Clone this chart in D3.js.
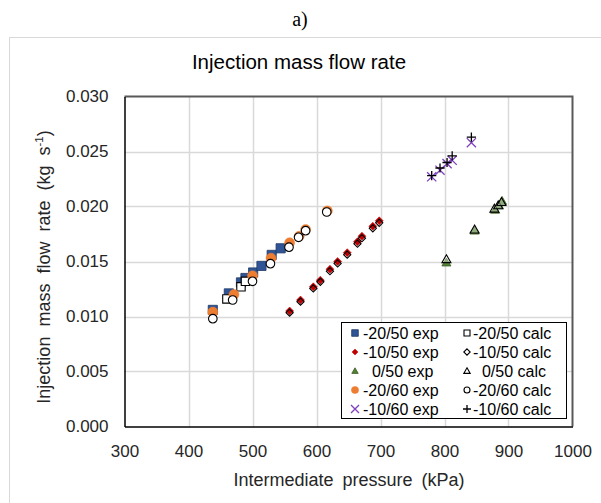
<!DOCTYPE html>
<html>
<head>
<meta charset="utf-8">
<script src="https://cdn.jsdelivr.net/npm/d3@7"></script>
<style>
  html, body { margin: 0; padding: 0; background: #ffffff; }
  svg { display: block; }
  text { font-family: "Liberation Sans", Arial, sans-serif; fill: #262626; }
</style>
</head>
<body>
<svg id="chart" width="601" height="503"></svg>
<script>
// ---------------- DATA ----------------
const xTicks = [300, 400, 500, 600, 700, 800, 900, 1000];
const yTicks = [0.000, 0.005, 0.010, 0.015, 0.020, 0.025, 0.030];

const seriesNames = ["-20/50 exp", "-20/50 calc", "-10/50 exp", "-10/50 calc",
                     "\u00a0\u00a00/50 exp", "\u00a0\u00a00/50 calc", "-20/60 exp", "-20/60 calc",
                     "-10/60 exp", "-10/60 calc"];

// -20/50
const m20_50_exp_x  = [438, 463, 482, 489, 501, 514, 530, 544];
const m20_50_exp_y  = [0.0106, 0.0121, 0.0131, 0.0135, 0.0140, 0.0146, 0.0156, 0.0162];
const m20_50_calc_x = [460, 482, 489];
const m20_50_calc_y = [0.0116, 0.0127, 0.0132];
// -10/50
const m10_50_exp_x  = [558, 575, 595, 606, 621, 633, 648, 664, 671, 688, 698];
const m10_50_exp_y  = [0.0105, 0.0115, 0.0127, 0.0133, 0.0143, 0.0150, 0.0158, 0.0168, 0.0173, 0.0182, 0.0187];
const m10_50_calc_x = [558, 575, 595, 606, 621, 633, 648, 664, 671, 688, 698];
const m10_50_calc_y = [0.01035, 0.01135, 0.01255, 0.01315, 0.01412, 0.01482, 0.01562, 0.01662, 0.01712, 0.01802, 0.01852];
// 0/50
const z0_50_exp_x   = [803, 847, 879, 885, 890];
const z0_50_exp_y   = [0.0149, 0.0178, 0.0197, 0.0201, 0.0205];
const z0_50_calc_x  = [803, 847, 878, 884, 889];
const z0_50_calc_y  = [0.0152, 0.0179, 0.0198, 0.0201, 0.0204];
// -20/60
const m20_60_exp_x  = [438, 471, 500, 529, 558, 573, 583, 617];
const m20_60_exp_y  = [0.0104, 0.0120, 0.0137, 0.0153, 0.0167, 0.0173, 0.0179, 0.0196];
const m20_60_calc_x = [438, 469, 500, 528, 557, 572, 583, 616];
const m20_60_calc_y = [0.0098, 0.0115, 0.0132, 0.0148, 0.0163, 0.0172, 0.0178, 0.0195];
// -10/60
const m10_60_exp_x  = [780, 793, 804, 812, 842];
const m10_60_exp_y  = [0.0227, 0.0233, 0.0239, 0.0242, 0.0258];
const m10_60_calc_x = [780, 793, 804, 812, 842];
const m10_60_calc_y = [0.0228, 0.0235, 0.0240, 0.0246, 0.0263];

// ---------------- MARKER SHAPES (size = half-width in px) ----------------
const mk = {
  square:   { draw(c, r) { c.moveTo(-r, -r); c.lineTo(r, -r); c.lineTo(r, r); c.lineTo(-r, r); c.closePath(); } },
  diamond:  { draw(c, r) { c.moveTo(0, -r); c.lineTo(r, 0); c.lineTo(0, r); c.lineTo(-r, 0); c.closePath(); } },
  triangle: { draw(c, r) { c.moveTo(0, -r); c.lineTo(r, r * 0.75); c.lineTo(-r, r * 0.75); c.closePath(); } },
  circle:   { draw(c, r) { c.moveTo(r, 0); c.arc(0, 0, r, 0, 2 * Math.PI); c.closePath(); } },
  times:    { draw(c, r) { c.moveTo(-r, -r); c.lineTo(r, r); c.moveTo(r, -r); c.lineTo(-r, r); } },
  plus:     { draw(c, r) { c.moveTo(-r, 0); c.lineTo(r, 0); c.moveTo(0, -r); c.lineTo(0, r); } }
};

const series = [
  { name: seriesNames[0], xs: m20_50_exp_x,  ys: m20_50_exp_y,  type: mk.square,   r: 4.6, r2: 3.3, fill: "#2F5597", stroke: "#1F3864", sw: 0.8 },
  { name: seriesNames[1], xs: m20_50_calc_x, ys: m20_50_calc_y, type: mk.square,   r: 4.2, r2: 3.0, fill: "#ffffff", stroke: "#000000", sw: 1.1 },
  { name: seriesNames[2], xs: m10_50_exp_x,  ys: m10_50_exp_y,  type: mk.diamond,  r: 4.0, r2: 3.0, fill: "#C00000", stroke: "#C00000", sw: 0.5 },
  { name: seriesNames[3], xs: m10_50_calc_x, ys: m10_50_calc_y, type: mk.diamond,  r: 3.6, r2: 3.2, fill: "#ffffff", stroke: "#000000", sw: 1.1, fillOpacity: 0.0 },
  { name: seriesNames[4], xs: z0_50_exp_x,   ys: z0_50_exp_y,   type: mk.triangle, r: 4.5, r2: 3.2, fill: "#548235", stroke: "#3a5a24", sw: 0.8 },
  { name: seriesNames[5], xs: z0_50_calc_x,  ys: z0_50_calc_y,  type: mk.triangle, r: 4.5, r2: 3.2, fill: "#ffffff", stroke: "#000000", sw: 1.1, fillOpacity: 0.35 },
  { name: seriesNames[6], xs: m20_60_exp_x,  ys: m20_60_exp_y,  type: mk.circle,   r: 5.0, r2: 3.6, fill: "#ED7D31", stroke: "#ED7D31", sw: 0.5 },
  { name: seriesNames[7], xs: m20_60_calc_x, ys: m20_60_calc_y, type: mk.circle,   r: 4.3, r2: 3.0, fill: "#ffffff", stroke: "#000000", sw: 1.1 },
  { name: seriesNames[8], xs: m10_60_exp_x,  ys: m10_60_exp_y,  type: mk.times,    r: 4.6, r2: 4.0, fill: "none",    stroke: "#7F3FBF", sw: 1.3 },
  { name: seriesNames[9], xs: m10_60_calc_x, ys: m10_60_calc_y, type: mk.plus,     r: 4.6, r2: 4.0, fill: "none",    stroke: "#000000", sw: 1.3 }
];

// ---------------- LAYOUT ----------------
const svg = d3.select("#chart");
const plot = { left: 124.5, right: 572.5, top: 96.5, bottom: 426.5 };

const x = d3.scaleLinear().domain([300, 1000]).range([plot.left, plot.right]);
const y = d3.scaleLinear().domain([0, 0.030]).range([plot.bottom, plot.top]);

// "a)" label
svg.append("text").attr("x", 300).attr("y", 26).attr("text-anchor", "middle")
  .style("font-family", "'Liberation Serif', 'Times New Roman', serif")
  .style("font-size", "20px").style("fill", "#000").text("a)");

// outer chart border
svg.append("rect").attr("x", 9.5).attr("y", 37.5).attr("width", 620).attr("height", 500)
  .attr("fill", "none").attr("stroke", "#d9d9d9").attr("stroke-width", 1);

// title
svg.append("text").attr("x", 299).attr("y", 69).attr("text-anchor", "middle")
  .style("font-size", "20.5px").style("fill", "#000").text("Injection mass flow rate");

// gridlines
const grid = svg.append("g");
grid.selectAll("line.v").data(xTicks.slice(1, -1)).enter().append("line")
  .attr("x1", d => Math.round(x(d)) + 0.5).attr("x2", d => Math.round(x(d)) + 0.5)
  .attr("y1", plot.top).attr("y2", plot.bottom)
  .attr("stroke", "#d9d9d9").attr("stroke-width", 1.5);
grid.selectAll("line.h").data(yTicks.slice(1, -1)).enter().append("line")
  .attr("y1", d => Math.round(y(d)) + 0.5).attr("y2", d => Math.round(y(d)) + 0.5)
  .attr("x1", plot.left).attr("x2", plot.right)
  .attr("stroke", "#d9d9d9").attr("stroke-width", 1.5);

// plot border (top/right dark grey)
svg.append("path")
  .attr("d", `M${plot.left},${plot.top}H${plot.right}V${plot.bottom}`)
  .attr("fill", "none").attr("stroke", "#595959").attr("stroke-width", 2);

// axes
const xAxis = d3.axisBottom(x).tickValues(xTicks).tickFormat(d3.format("d")).tickSize(0).tickPadding(18);
const yAxis = d3.axisLeft(y).tickValues(yTicks).tickFormat(d3.format(".3f")).tickSize(0).tickPadding(16);

const gx = svg.append("g").attr("transform", `translate(0,${plot.bottom})`).call(xAxis);
const gy = svg.append("g").attr("transform", `translate(${plot.left},0)`).call(yAxis);
[gx, gy].forEach(g => {
  g.select(".domain").attr("stroke", "#000").attr("stroke-width", 1.5);
  g.selectAll("text").style("font-size", "17px").style("fill", "#262626")
    .style("font-family", "'Liberation Sans', Arial, sans-serif");
});

// axis titles
svg.append("text").attr("x", 349).attr("y", 486).attr("text-anchor", "middle")
  .style("font-size", "18px").style("word-spacing", "4px").text("Intermediate pressure (kPa)");

const yt = svg.append("text").attr("transform", "translate(50,267) rotate(-90)")
  .attr("text-anchor", "middle").style("font-size", "18px").style("word-spacing", "5px");
yt.append("tspan").text("Injection mass flow rate (kg s");
yt.append("tspan").attr("dy", -7).style("font-size", "11.5px").text("-1");
yt.append("tspan").attr("dy", 7).text(")");

// markers
const marks = svg.append("g");
series.forEach(s => {
  const pts = s.xs.map((v, i) => [v, s.ys[i]]);
  marks.append("g").selectAll("path").data(pts).enter().append("path")
    .attr("transform", d => `translate(${x(d[0])},${y(d[1])})`)
    .attr("d", d3.symbol().type(s.type).size(s.r))
    .attr("fill", s.fill).attr("fill-opacity", s.fillOpacity === undefined ? 1 : s.fillOpacity)
    .attr("stroke", s.stroke).attr("stroke-width", s.sw);
});

// legend
const lg = svg.append("g");
lg.append("rect").attr("x", 341.5).attr("y", 322.5).attr("width", 225).attr("height", 96)
  .attr("fill", "#fff").attr("stroke", "#000").attr("stroke-width", 1);
series.forEach((s, i) => {
  const col = i % 2, row = Math.floor(i / 2);
  const cy = 333 + row * 19;
  const mx = col === 0 ? 355 : 467;
  const tx = col === 0 ? 363 : 473;
  lg.append("path").attr("transform", `translate(${mx},${cy})`)
    .attr("d", d3.symbol().type(s.type).size(s.r2))
    .attr("fill", s.fillOpacity !== undefined ? "#fff" : s.fill).attr("stroke", s.stroke).attr("stroke-width", s.sw);
  lg.append("text").attr("x", tx).attr("y", cy + 5.5)
    .style("font-size", "16px").style("fill", "#000").text(s.name);
});
</script>
</body>
</html>
